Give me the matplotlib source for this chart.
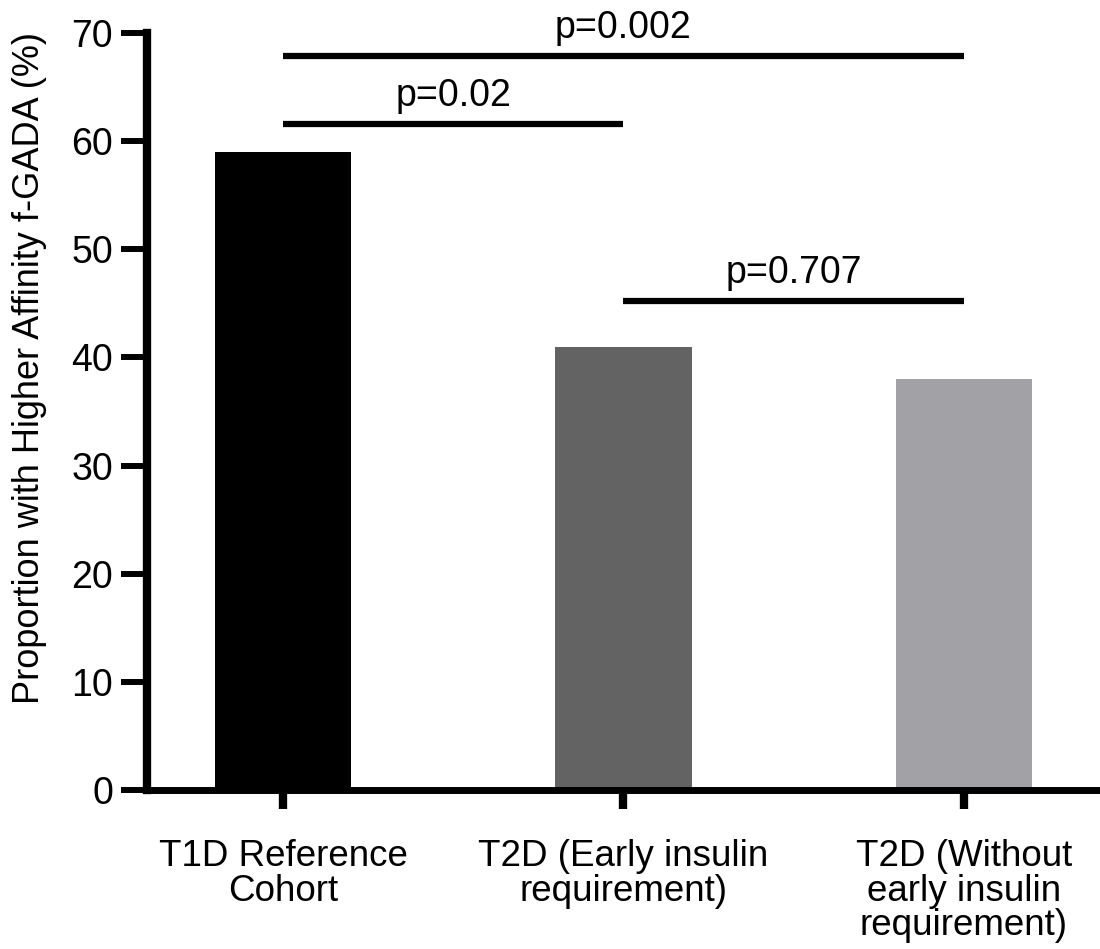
import matplotlib
matplotlib.use("Agg")
import matplotlib.pyplot as plt

# Proportion with higher affinity f-GADA per group
groups = ["T1D Reference\nCohort",
          "T2D (Early insulin\nrequirement)",
          "T2D (Without\nearly insulin\nrequirement)"]
proportions = [59, 41, 38]
bar_colors = ["#000000", "#636363", "#a2a1a6"]

# pairwise comparisons: (left group, right group, bracket height, label)
comparisons = [
    (0, 2, 67.9, "p=0.002"),
    (0, 1, 61.6, "p=0.02"),
    (1, 2, 45.2, "p=0.707"),
]

y_ticks = [0, 10, 20, 30, 40, 50, 60, 70]

plt.rcParams['font.family'] = ['Liberation Sans', 'DejaVu Sans']

fig = plt.figure(figsize=(11, 9.49), dpi=100)
ax = fig.add_axes([0.1336, 0.1675, 0.8664, 0.7977])

x = range(len(groups))
ax.bar(x, proportions, width=0.4, color=bar_colors, edgecolor="none")

for left, right, y, label in comparisons:
    ax.plot([left, right], [y, y], color="black", lw=4.5,
            solid_capstyle="butt", clip_on=False)
    ax.text((left + right) / 2, y + 0.9, label, ha="center", va="bottom",
            fontsize=27)

ax.set_xlim(-0.4, 2.4)
ax.set_ylim(0, 70)
ax.set_yticks(y_ticks)
ax.set_xticks(list(x))
ax.set_xticklabels(groups, fontsize=26.5, linespacing=0.98)
ax.tick_params(axis="y", labelsize=27, length=18.5, width=4.3, pad=6)
ax.tick_params(axis="x", length=13.5, width=6, pad=22)

for side in ["top", "right"]:
    ax.spines[side].set_visible(False)
ax.spines["left"].set_linewidth(6)
ax.spines["bottom"].set_linewidth(5)

ax.set_ylabel("Proportion with Higher Affinity f-GADA (%)",
              fontsize=26, va="center")
ax.yaxis.set_label_coords(-0.123, 0.558)

fig.savefig("out.png", dpi=100)
